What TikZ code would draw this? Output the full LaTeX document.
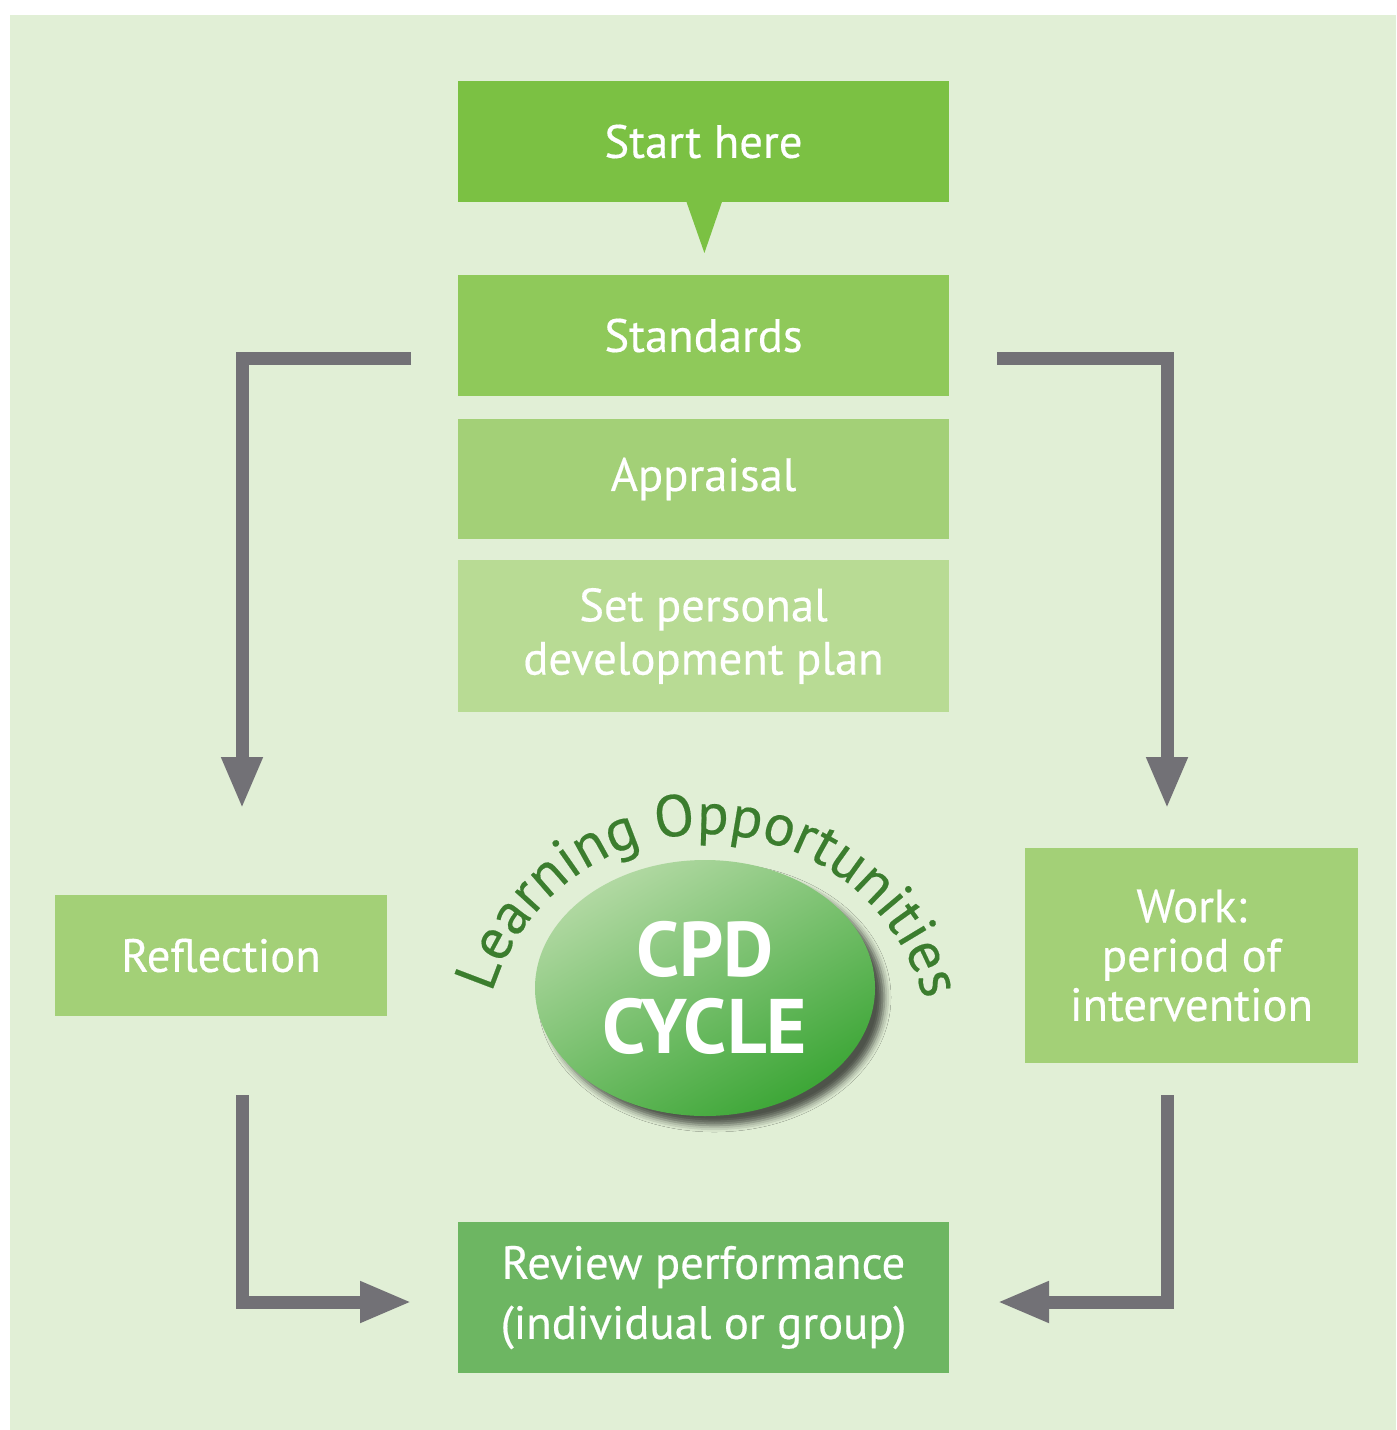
\documentclass[tikz,border=0pt]{standalone}
\usepackage{fontspec}
\setmainfont[FakeBold=0.4]{PT Sans}
\newfontfamily\cpdfont{PT Sans}
\newfontfamily\arcfont[FakeBold=0.3]{PT Sans}
\usetikzlibrary{arrows.meta,shapes.geometric,decorations.text,shadows.blur}
\newlength\pxl \setlength\pxl{0.75pt}
\definecolor{bg}{HTML}{E1EFD6}
\definecolor{cstart}{HTML}{7BC143}
\definecolor{cstd}{HTML}{8FC95A}
\definecolor{capp}{HTML}{A3D077}
\definecolor{cplan}{HTML}{B8DB94}
\definecolor{crev}{HTML}{6DB662}
\definecolor{agray}{HTML}{727176}
\definecolor{dkgreen}{HTML}{3B7D2E}
\definecolor{elltop}{HTML}{B2D9A3}
\definecolor{ellbot}{HTML}{3CA636}
\begin{document}
\begin{tikzpicture}[x=0.75pt,y=-0.75pt,
  box/.style={rectangle, inner sep=0pt, text=white, align=center,
    minimum width=491\pxl, font=\fontsize{35pt}{40pt}\selectfont},
  conn/.style={draw=agray, line width=9.75pt, line join=miter,
    -{Triangle[length=39pt,width=28.5pt]}}]
\useasboundingbox (0,0) rectangle (1396,1430);
\fill[bg] (10,15) rectangle (1396,1430);

% boxes
\node[box, fill=cstart, minimum height=121\pxl] (start) at (703.5,141.5) {Start here};
\fill[cstart] (685.8,200) -- (722.6,200) -- (704.4,253) -- cycle;
\node[box, fill=cstd, minimum height=121\pxl] (std) at (703.5,335.5) {Standards};
\node[box, fill=capp, minimum height=120\pxl] (appr) at (703.5,479) {Appraisal};
\node[box, fill=cplan, minimum height=152\pxl, font=\fontsize{35pt}{40pt}\selectfont] (plan) at (703.5,636) {Set personal\\development plan};
\node[box, fill=capp, minimum width=332\pxl, minimum height=121\pxl] (refl) at (221,955.5) {Reflection};
\node[box, fill=capp, minimum width=333\pxl, minimum height=215\pxl, font=\fontsize{35pt}{37pt}\selectfont] (work) at (1191.5,955.5) {Work:\\period of\\intervention};
\node[box, fill=crev, minimum height=151\pxl, font=\fontsize{35pt}{45pt}\selectfont] (rev) at (703.5,1297.5) {Review performance\\(individual or group)};

% central ellipse
\node[ellipse, minimum width=340\pxl, minimum height=256\pxl, inner sep=0pt,
  top color=elltop, bottom color=ellbot, shading angle=30,
  blur shadow={shadow xshift=7pt, shadow yshift=-7pt, shadow blur radius=5pt, shadow opacity=65},
  text=white, align=center, font=\cpdfont\bfseries\fontsize{58pt}{58pt}\selectfont] (cpd) at (705,988) {CPD\\CYCLE};

% curved label
\path[decorate, decoration={text along path, text align=fit to path,
  text={|\arcfont\fontsize{44pt}{44pt}\selectfont\color{dkgreen}|Learning Opportunities}}]
  (491.8,993.2) arc[start angle=163, end angle=17, radius=168.75pt];

% connectors
\coordinate (ltA) at (411,358.5);
\coordinate (ltB) at (242,809);
\coordinate (rtA) at (997,358.5);
\coordinate (rtB) at (1167,809);
\coordinate (lbA) at (242,1095);
\coordinate (lbB) at (412,1302);
\coordinate (rbA) at (1167,1095);
\coordinate (rbB) at (997,1302);
\draw[conn] (ltA) -| (ltB);
\draw[conn] (rtA) -| (rtB);
\draw[conn] (lbA) |- (lbB);
\draw[conn] (rbA) |- (rbB);
\end{tikzpicture}
\end{document}
